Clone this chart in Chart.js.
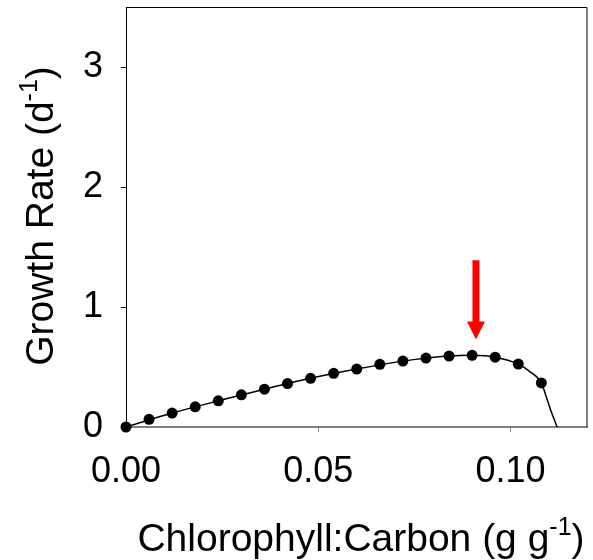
<!DOCTYPE html>
<html><head><meta charset="utf-8">
<script src="https://cdn.jsdelivr.net/npm/chart.js@4"></script>
<style>html,body{margin:0;padding:0;background:#fff}#wrap{width:593px;height:560px}</style>
</head><body><div id="wrap"><canvas id="c" width="593" height="560"></canvas></div>
<script>
// Measured points (Chl:C, g g-1) and growth rate (d-1)
const chlC   = [0, 0.006, 0.012, 0.018, 0.024, 0.030, 0.036, 0.042, 0.048, 0.054, 0.060, 0.066, 0.072, 0.078, 0.084, 0.090, 0.096, 0.102, 0.108];
const growth = [0, 0.064, 0.116, 0.168, 0.218, 0.268, 0.315, 0.362, 0.406, 0.447, 0.483, 0.522, 0.549, 0.574, 0.591, 0.597, 0.582, 0.524, 0.367];
// Fitted curve
const fitX = [0, 0.012, 0.024, 0.036, 0.048, 0.060, 0.072, 0.084, 0.090, 0.096, 0.102, 0.105, 0.108, 0.1093, 0.1106, 0.1121];
const fitY = [0, 0.116, 0.218, 0.315, 0.406, 0.483, 0.549, 0.591, 0.597, 0.582, 0.524, 0.462, 0.367, 0.25, 0.125, 0];
const xTicks = [0, 0.05, 0.10];
const xTickLabels = ['0.00', '0.05', '0.10'];
const yTicks = [0, 1, 2, 3];
const yTickLabels = ['0', '1', '2', '3'];
// Arrow: x, y of tail, y of tip
const arrowX = 0.091, arrowTail = 1.39, arrowTip = 0.73;

const FONT = '"Liberation Sans", Arial, sans-serif';

const extras = {
  id: 'extras',
  beforeDatasetsDraw(chart) {
    const {ctx, chartArea: a} = chart;
    ctx.save();
    ctx.strokeStyle = '#000';
    ctx.lineWidth = 1;
    ctx.beginPath();
    ctx.moveTo(a.left, a.top + 0.5);
    ctx.lineTo(a.right - 0.5, a.top + 0.5);
    ctx.lineTo(a.right - 0.5, a.bottom);
    ctx.stroke();
    ctx.restore();
  },
  afterDraw(chart) {
    const {ctx, scales: {x, y}} = chart;
    ctx.save();
    // arrow
    const ax = x.getPixelForValue(arrowX);
    const yT = y.getPixelForValue(arrowTail);
    const yP = y.getPixelForValue(arrowTip);
    const headLen = 18, headHalf = 9, shaftHalf = 3.5;
    ctx.fillStyle = '#ff0000';
    ctx.beginPath();
    ctx.moveTo(ax - shaftHalf, yT);
    ctx.lineTo(ax + shaftHalf, yT);
    ctx.lineTo(ax + shaftHalf, yP - headLen);
    ctx.lineTo(ax + headHalf, yP - headLen);
    ctx.lineTo(ax, yP);
    ctx.lineTo(ax - headHalf, yP - headLen);
    ctx.lineTo(ax - shaftHalf, yP - headLen);
    ctx.closePath();
    ctx.fill();

    // titles with superscripts
    const main = 39, sup = 25, rise = 16;
    function drawSup(parts, cx, baseY) {
      ctx.font = main + 'px ' + FONT;
      const w1 = ctx.measureText(parts[0]).width;
      const w3 = ctx.measureText(parts[2]).width;
      ctx.font = sup + 'px ' + FONT;
      const w2 = ctx.measureText(parts[1]).width;
      const total = w1 + w2 + w3;
      let sx = cx - total / 2;
      ctx.fillStyle = '#000';
      ctx.textBaseline = 'alphabetic';
      ctx.textAlign = 'left';
      ctx.font = main + 'px ' + FONT;
      ctx.fillText(parts[0], sx, baseY);
      ctx.font = sup + 'px ' + FONT;
      ctx.fillText(parts[1], sx + w1, baseY - rise);
      ctx.font = main + 'px ' + FONT;
      ctx.fillText(parts[2], sx + w1 + w2, baseY);
    }
    drawSup(['Chlorophyll:Carbon (g g', '-1', ')'], 361, 551);
    ctx.save();
    ctx.translate(53, 216);
    ctx.rotate(-Math.PI / 2);
    drawSup(['Growth Rate (d', '-1', ')'], 0, 0);
    ctx.restore();
    ctx.restore();
  }
};

new Chart(document.getElementById('c'), {
  type: 'scatter',
  data: {
    datasets: [
      {
        data: chlC.map((v, i) => ({x: v, y: growth[i]})),
        pointRadius: 5.5, pointHoverRadius: 5.5,
        backgroundColor: '#000', borderColor: '#000', borderWidth: 0,
        showLine: false, order: 1, clip: false
      },
      {
        data: fitX.map((v, i) => ({x: v, y: fitY[i]})),
        showLine: true, pointRadius: 0, borderColor: '#000', borderWidth: 1.5,
        cubicInterpolationMode: 'monotone', fill: false, order: 2
      }
    ]
  },
  plugins: [extras],
  options: {
    responsive: false,
    animation: false,
    events: [],
    layout: {padding: {top: 7, right: 3, left: 0, bottom: 0}},
    plugins: {legend: {display: false}, tooltip: {enabled: false}},
    scales: {
      x: {
        type: 'linear', min: 0, max: 0.12,
        afterBuildTicks: s => { s.ticks = xTicks.map(v => ({value: v})); },
        afterFit: s => { s.height = 133; s.paddingLeft = 0; s.paddingRight = 0; },
        ticks: {
          font: {family: FONT, size: 36}, color: '#000', padding: 18,
          maxRotation: 0, autoSkip: false,
          callback: (v) => xTickLabels[xTicks.indexOf(v)] ?? ''
        },
        grid: {drawOnChartArea: false, drawTicks: true, tickLength: 5, color: '#808080', lineWidth: 1},
        border: {display: true, color: '#808080', width: 2}
      },
      y: {
        type: 'linear', min: 0, max: 3.5,
        afterBuildTicks: s => { s.ticks = yTicks.map(v => ({value: v})); },
        afterFit: s => { s.width = 126; s.paddingTop = 0; s.paddingBottom = 0; },
        ticks: {
          font: {family: FONT, size: 36}, color: '#000', padding: 18,
          autoSkip: false,
          callback: (v) => yTickLabels[yTicks.indexOf(v)] ?? ''
        },
        grid: {drawOnChartArea: false, drawTicks: true, tickLength: 5, color: '#000', lineWidth: 1},
        border: {display: true, color: '#000', width: 1}
      }
    }
  }
});
</script>
</body></html>
